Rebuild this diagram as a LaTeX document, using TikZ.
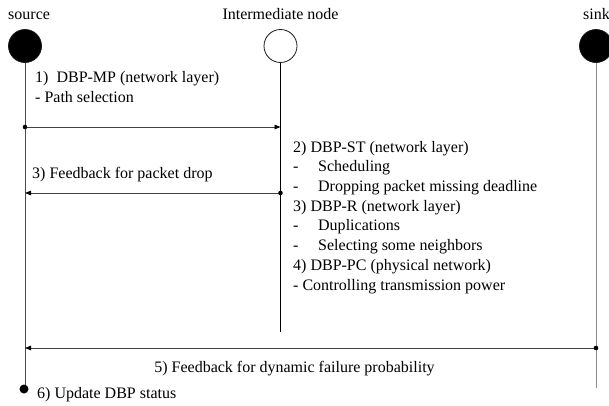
\documentclass[tikz,border=0pt]{standalone}
\usepackage{fontspec}
\setmainfont{Liberation Serif}
\usetikzlibrary{arrows.meta}
\tikzset{
  peer/.style={circle,draw=black!90,line width=0.8pt,minimum size=33pt,inner sep=0pt},
  life/.style={line width=0.9pt},
  msg/.style={line width=0.8pt,draw=black!75,-{Triangle[length=6pt,width=4.5pt,color=black]}},
  lbl/.style={anchor=base west,inner sep=0pt,align=left},
}
\newcommand{\sendpt}[1]{\fill[black] (#1) circle[radius=2.3pt];}
\newcommand{\bulletdash}{\makebox[25pt][l]{-}}

\begin{document}
\begin{tikzpicture}[x=1pt,y=-1pt,font=\fontsize{16}{19.7}\selectfont]
	\useasboundingbox (0,0) rectangle (609,405);
	% the three peers
	\node[peer,fill=black] (src) at (25,46) {};
	\node[peer,fill=white] (inter) at (280.5,46) {};
	\node[peer,fill=black] (snk) at (596,46) {};
	\node[lbl] (srclbl) at (8,19) {source};
	\node[anchor=base,inner sep=0pt] (interlbl) at (280.5,19) {Intermediate node};
	\node[lbl] (snklbl) at (583,19) {sink};
	% life lines
	\coordinate (srcend) at (25,389);
	\coordinate (interend) at (280.5,332);
	\coordinate (snkend) at (596,388);
	\draw[life,black!70] (src) -- (srcend);
	\draw[life,black] (inter) -- (interend);
	\draw[life,black!45] (snk) -- (snkend);
	% messages
	\coordinate (m1a) at (25,127);
	\coordinate (m1b) at (280.5,127);
	\coordinate (m3a) at (280.5,193);
	\coordinate (m3b) at (25,193);
	\coordinate (m5a) at (596,348);
	\coordinate (m5b) at (25,348);
	\draw[msg] (m1a) -- (m1b);
	\draw[msg] (m3a) -- (m3b);
	\draw[msg] (m5a) -- (m5b);
	\sendpt{m1a}
	\sendpt{m3a}
	\sendpt{m5a}
	\fill[black] (24,389) circle[radius=4.5pt];
	% labels (base of a multi-line node is its last line)
	\node[lbl] (step1) at (35,102) {1)\hspace{8pt}DBP-MP (network layer)\\- Path selection};
	\node[lbl] (step3) at (32,178) {3) Feedback for packet drop};
	\node[lbl] (steps) at (293,290) {2) DBP-ST (network layer)\\
		\bulletdash Scheduling\\
		\bulletdash Dropping packet missing deadline\\
		3) DBP-R (network layer)\\
		\bulletdash Duplications\\
		\bulletdash Selecting some neighbors\\
		4) DBP-PC (physical network)\\
		- Controlling transmission power};
	\node[anchor=base,inner sep=0pt] (step5) at (294.5,372) {5) Feedback for dynamic failure probability};
	\node[lbl] (step6) at (37,398) {6) Update DBP status};
\end{tikzpicture}
\end{document}
